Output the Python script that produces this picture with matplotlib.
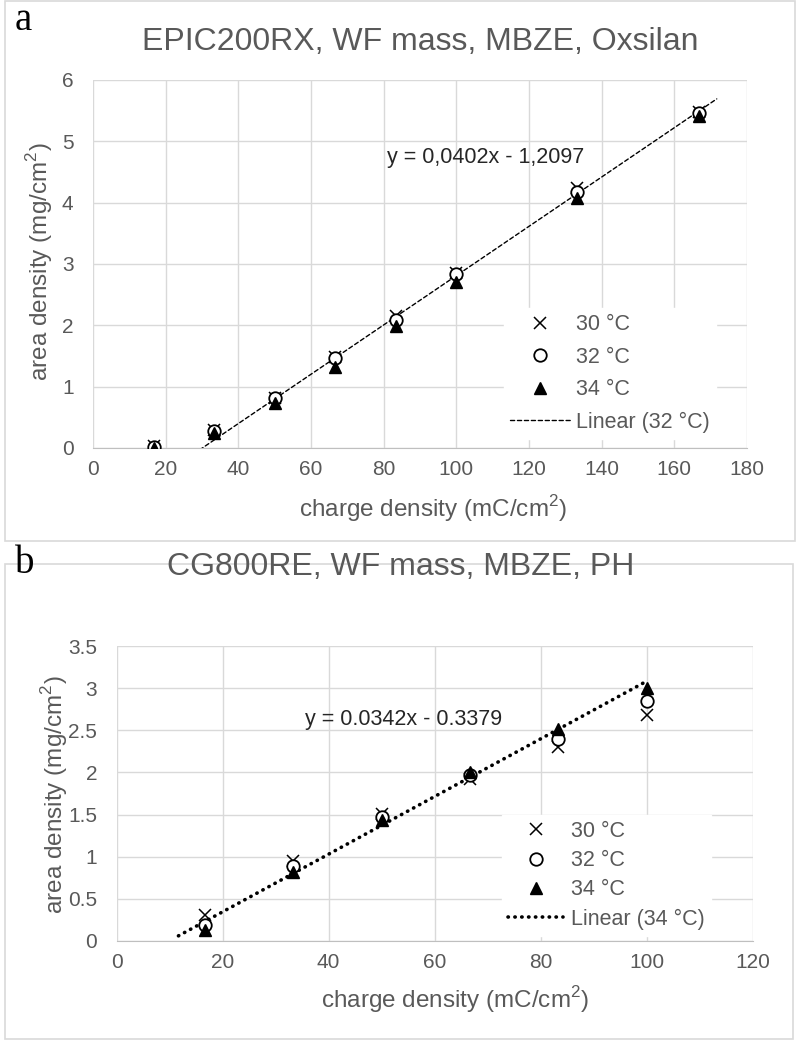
import matplotlib
matplotlib.use("Agg")
import matplotlib.pyplot as plt
import numpy as np
from matplotlib.lines import Line2D
from matplotlib.patches import Rectangle

plt.rcParams['font.family'] = ['Liberation Sans', 'DejaVu Sans']
plt.rcParams['mathtext.fontset'] = 'custom'
plt.rcParams['mathtext.rm'] = 'Liberation Sans'

# panel a data
xa = [16.67, 33.33, 50, 66.67, 83.33, 100, 133.33, 166.67]
a_30 = [0.03, 0.30, 0.82, 1.48, 2.15, 2.86, 4.24, 5.48]
a_32 = [0.02, 0.28, 0.81, 1.46, 2.08, 2.84, 4.18, 5.47]
a_34 = [0.00, 0.24, 0.74, 1.32, 1.99, 2.71, 4.07, 5.42]
a_fit = (0.0402, -1.2097)
a_fit_range = (16.67, 171.67)

# panel b data
xb = [16.67, 33.33, 50, 66.67, 83.33, 100]
b_30 = [0.31, 0.95, 1.51, 1.92, 2.30, 2.68]
b_32 = [0.19, 0.89, 1.47, 1.97, 2.40, 2.85]
b_34 = [0.13, 0.82, 1.43, 2.00, 2.51, 3.00]
b_fit = (0.0342, -0.3379)
b_fit_range = (11.67, 100)

grey = '#595959'
grid = '#d9d9d9'
W, H = 800, 1041

fig = plt.figure(figsize=(8, 10.41), dpi=100)

# chart area frames
fig.patches.append(Rectangle((5/W, 1-541/H), 790/W, 540/H, transform=fig.transFigure,
                             fill=False, edgecolor=grid, lw=1.2))
fig.patches.append(Rectangle((5/W, 1-1039/H), 788/W, 475/H, transform=fig.transFigure,
                             fill=False, edgecolor=grid, lw=1.2))


def panel(rect, x, s30, s32, s34, fit, fit_range, fit_style, fit_label, eq, eq_pos,
          xlim, xstep, ylim, ystep, leg_anchor, leg_spacing, hlen, hpad, xlab_pos, ylab_pos):
    ax = fig.add_axes(rect)
    ax.set_xlim(*xlim)
    ax.set_ylim(*ylim)
    ax.set_xticks(np.arange(xlim[0], xlim[1] + 0.01, xstep))
    ax.set_yticks(np.arange(ylim[0], ylim[1] + 0.01, ystep))
    ax.grid(True, color=grid, lw=1)
    ax.set_axisbelow(True)
    for s in ['top', 'right', 'left']:
        ax.spines[s].set_visible(False)
    ax.spines['bottom'].set_color('#bfbfbf')
    ax.tick_params(length=0, labelsize=15, labelcolor=grey)
    ax.tick_params(axis='x', pad=9)
    ax.tick_params(axis='y', pad=14)
    ax.yaxis.set_major_formatter(matplotlib.ticker.FuncFormatter(lambda v, p: ('%g' % v)))

    fx = np.array(fit_range)
    ls, lw = fit_style
    ax.plot(fx, fit[0] * fx + fit[1], color='black', ls=ls, lw=lw, dash_capstyle='round', zorder=2)
    ax.plot(x, s30, ls='none', marker='x', ms=8, mew=1.1, color='black', zorder=3)
    ax.plot(x, s32, ls='none', marker='o', ms=9, mew=1.3, mfc='white', mec='black', zorder=3)
    ax.plot(x, s34, ls='none', marker='^', ms=8.5, color='black', zorder=4)
    ax.text(eq_pos[0], eq_pos[1], eq, fontsize=15.5, color='#262626', va='center', ha='left')

    handles = [Line2D([], [], ls='none', marker='x', ms=8, mew=1.1, color='black'),
               Line2D([], [], ls='none', marker='o', ms=9, mew=1.3, mfc='white', mec='black'),
               Line2D([], [], ls='none', marker='^', ms=8.5, color='black'),
               Line2D([], [], color='black', ls=ls, lw=lw, dash_capstyle='round')]
    labels = ['30 °C', '32 °C', '34 °C', fit_label]
    leg = ax.legend(handles, labels, loc='lower left', bbox_to_anchor=leg_anchor, frameon=True,
                    fontsize=15.5, labelcolor=grey, handlelength=hlen, handletextpad=hpad,
                    labelspacing=leg_spacing, borderpad=0.3, fancybox=False)
    leg.get_frame().set_edgecolor('white')
    leg.get_frame().set_facecolor('white')
    leg.get_frame().set_alpha(1)
    ax.set_xlabel(r'charge density (mC/cm$^{\mathregular{2}}$)', fontsize=17.5, color=grey)
    ax.set_ylabel(r'area density (mg/cm$^{\mathregular{2}}$)', fontsize=17.5, color=grey)
    ax.xaxis.set_label_coords(*xlab_pos)
    ax.yaxis.set_label_coords(*ylab_pos)
    ax.xaxis.label.set_va('center')
    ax.yaxis.label.set_va('center')
    return ax


ax_a = panel([93/W, 1-448/H, 654/W, 368/H], xa, a_30, a_32, a_34, a_fit, a_fit_range,
             ((0, (3, 2)), 1.0), 'Linear (32 °C)', 'y = 0,0402x - 1,2097', (81, 4.73),
             (0, 180), 20, (0, 6), 1, (0.612, -0.005), 0.53, 2.75, 0.3,
             (0.52, -0.165), (-0.081, 0.505))

ax_b = panel([116.6/W, 1-941/H, 636/W, 295/H], xb, b_30, b_32, b_34, b_fit, b_fit_range,
             ((0, (0.1, 1.8)), 2.6), 'Linear (34 °C)', 'y = 0.0342x - 0.3379', (35.5, 2.63),
             (0, 120), 20, (0, 3.5), 0.5, (0.589, -0.02), 0.38, 2.55, 0.37,
             (0.532, -0.2), (-0.097, 0.495))

fig.text(420/W, 1-42/H, 'EPIC200RX, WF mass, MBZE, Oxsilan', fontsize=23, color=grey,
         ha='center', va='center')
fig.text(401/W, 1-567/H, 'CG800RE, WF mass, MBZE, PH', fontsize=23, color=grey,
         ha='center', va='center')

fig.text(15/W, 1-30/H, 'a', family='Liberation Serif', fontsize=28, color='black')
fig.text(15/W, 1-573/H, 'b', family='Liberation Serif', fontsize=28, color='black')

fig.savefig('out.png', dpi=100)
